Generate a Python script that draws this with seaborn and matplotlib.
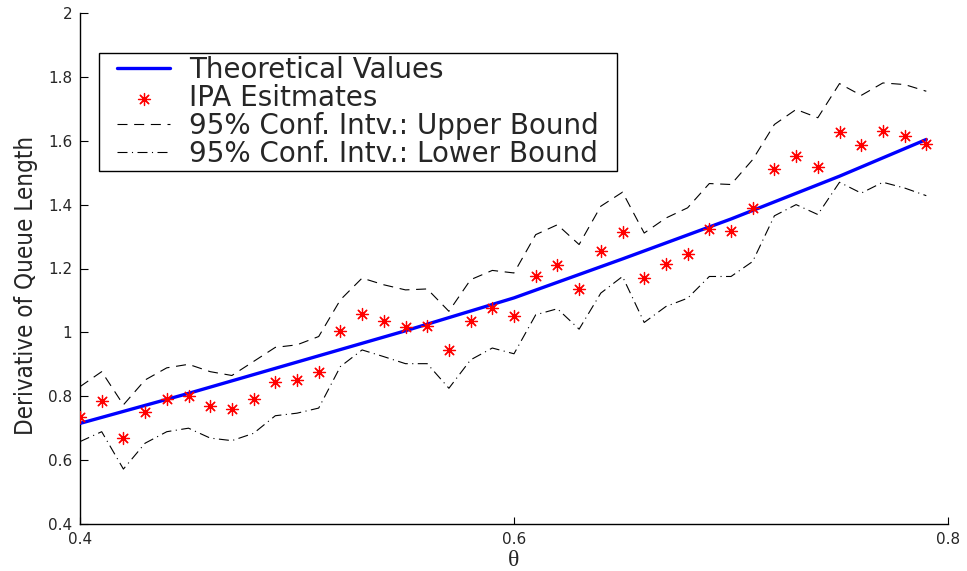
import matplotlib
matplotlib.use("Agg")
import matplotlib.pyplot as plt
from matplotlib import font_manager
from matplotlib.font_manager import FontProperties
from matplotlib.legend_handler import HandlerLine2D, HandlerPathCollection
from matplotlib.patches import Rectangle
import seaborn as sns
import pandas as pd

# ---- data ----
theta = [0.40, 0.41, 0.42, 0.43, 0.44, 0.45, 0.46, 0.47, 0.48, 0.49,
         0.50, 0.51, 0.52, 0.53, 0.54, 0.55, 0.56, 0.57, 0.58, 0.59,
         0.60, 0.61, 0.62, 0.63, 0.64, 0.65, 0.66, 0.67, 0.68, 0.69,
         0.70, 0.71, 0.72, 0.73, 0.74, 0.75, 0.76, 0.77, 0.78, 0.79]

ipa = [0.736, 0.786, 0.669, 0.750, 0.792, 0.802, 0.771, 0.760, 0.790, 0.846,
       0.852, 0.877, 1.003, 1.058, 1.037, 1.018, 1.019, 0.945, 1.037, 1.076,
       1.052, 1.178, 1.210, 1.136, 1.256, 1.313, 1.170, 1.215, 1.245, 1.324,
       1.318, 1.390, 1.510, 1.552, 1.517, 1.628, 1.586, 1.632, 1.614, 1.591]

upper = [0.830, 0.877, 0.773, 0.851, 0.889, 0.900, 0.877, 0.865, 0.909, 0.953,
         0.961, 0.987, 1.102, 1.170, 1.149, 1.133, 1.136, 1.066, 1.165, 1.194,
         1.186, 1.306, 1.337, 1.275, 1.395, 1.439, 1.311, 1.358, 1.390, 1.466,
         1.463, 1.541, 1.651, 1.698, 1.672, 1.779, 1.742, 1.781, 1.776, 1.755]

lower = [0.658, 0.689, 0.572, 0.653, 0.689, 0.700, 0.669, 0.661, 0.684, 0.739,
         0.747, 0.763, 0.893, 0.945, 0.924, 0.902, 0.902, 0.825, 0.914, 0.951,
         0.933, 1.055, 1.074, 1.010, 1.123, 1.175, 1.031, 1.081, 1.107, 1.175,
         1.175, 1.222, 1.365, 1.400, 1.369, 1.470, 1.436, 1.470, 1.452, 1.428]

theory_x = [0.40, 0.45, 0.50, 0.55, 0.60, 0.65, 0.70, 0.75, 0.79]
theory_y = [0.715, 0.809, 0.907, 1.005, 1.108, 1.230, 1.355, 1.489, 1.604]

xticks = [0.4, 0.6, 0.8]
xtick_labels = ["0.4", "0.6", "0.8"]
yticks = [0.4, 0.6, 0.8, 1.0, 1.2, 1.4, 1.6, 1.8, 2.0]
ytick_labels = ["0.4", "0.6", "0.8", "1", "1.2", "1.4", "1.6", "1.8", "2"]

labels = ["Theoretical Values", "IPA Esitmates",
          "95% Conf. Intv.: Upper Bound", "95% Conf. Intv.: Lower Bound"]

df = pd.DataFrame({"theta": theta, "ipa": ipa, "upper": upper, "lower": lower})
df_th = pd.DataFrame({"theta": theory_x, "value": theory_y})

# ---- style ----
sns.set_theme(style="white")
plt.rcParams["font.family"] = ["DejaVu Sans"]


def pick_condensed():
    cands = [("Liberation Sans Narrow", "normal"), ("DejaVu Sans", "condensed"),
             ("Open Sans", "condensed"), ("Roboto", "condensed"),
             ("Noto Sans", "condensed")]
    for fam, st in cands:
        try:
            p = font_manager.findfont(FontProperties(family=fam, stretch=st),
                                      fallback_to_default=False)
        except Exception:
            continue
        pl = p.lower()
        if "narrow" in pl or "condensed" in pl:
            return fam, st
    return "DejaVu Sans", "normal"


yl_family, yl_stretch = pick_condensed()

fig = plt.figure(figsize=(9.67, 5.71), dpi=100)
ax = fig.add_axes([80 / 967, 1 - 524 / 571, 868 / 967, 511 / 571])

sns.lineplot(data=df_th, x="theta", y="value", ax=ax, color="#0000ff",
             linewidth=2.4, label=labels[0], zorder=4)
sns.scatterplot(data=df, x="theta", y="ipa", ax=ax, marker=(8, 2, 0),
                s=75, color="#ff0000", edgecolor="#ff0000", linewidth=0.9,
                label=labels[1], zorder=5)
sns.lineplot(data=df, x="theta", y="upper", ax=ax, color="black",
             linewidth=0.8, dashes=False, label=labels[2], zorder=3)
sns.lineplot(data=df, x="theta", y="lower", ax=ax, color="black",
             linewidth=0.8, dashes=False, label=labels[3], zorder=3)

lines = ax.get_lines()
lines[1].set_dashes([9, 6])
lines[2].set_dashes([9, 4, 1, 4])

ax.set_xlim(0.4, 0.8)
ax.set_ylim(0.4, 2.0)
ax.set_xticks(xticks)
ax.set_xticklabels(xtick_labels)
ax.set_yticks(yticks)
ax.set_yticklabels(ytick_labels)

for s in ["top", "right"]:
    ax.spines[s].set_visible(False)
for s in ["left", "bottom"]:
    ax.spines[s].set_color("black")
    ax.spines[s].set_linewidth(1.0)

ax.tick_params(axis="y", direction="in", length=6, width=0.8, color="black",
               labelsize=11, pad=5.5, left=True)
ax.tick_params(axis="x", direction="in", length=5, width=0.8, color="black",
               labelsize=11, pad=6, bottom=True)

ax.set_xlabel("θ", family=["Liberation Serif", "DejaVu Serif"], fontsize=17)
ax.xaxis.label.set_va("center")
ax.xaxis.set_label_coords(0.5, -(560 - 524) / 511)

ax.set_ylabel("Derivative of Queue Length", family=[yl_family],
              fontstretch=yl_stretch, fontsize=16)
ax.yaxis.label.set_va("center")
ax.yaxis.set_label_coords((26 - 80) / 868, (524 - 285) / 511)

# fit the y label length to the reference span (~300 px)
fig.canvas.draw()
r = fig.canvas.get_renderer()
ext = ax.yaxis.label.get_window_extent(r)
ax.yaxis.label.set_fontsize(16 * 300 / ext.height)

fs = 20
hx = HandlerLine2D(xpad=0.55)
hp = HandlerPathCollection(xpad=0.55)
handles, hl = ax.get_legend_handles_labels()
hmap = {h: (hp if h.__class__.__name__ == "PathCollection" else hx) for h in handles}
leg = ax.legend(handles, hl, loc="upper left",
                bbox_to_anchor=((99 + 3 - 80) / 868, (524 - 53 - 3) / 511),
                borderaxespad=0, fontsize=fs, frameon=False,
                handlelength=2.45, handletextpad=0.68, labelspacing=0.0,
                borderpad=0.0, handler_map=hmap)
leg.set_zorder(10)

fig.canvas.draw()
r = fig.canvas.get_renderer()
lb = leg.get_window_extent(r)
inv = ax.transAxes.inverted()
x0, y0 = inv.transform((lb.x0 - 3, lb.y0 - 3))
x1, y1 = inv.transform((lb.x1 + 18, lb.y1 + 3))
frame = Rectangle((x0, y0), x1 - x0, y1 - y0, transform=ax.transAxes,
                  facecolor="white", edgecolor="black", linewidth=1.0,
                  zorder=9, clip_on=False)
ax.add_patch(frame)

fig.savefig("out.png", dpi=100, facecolor="white")
